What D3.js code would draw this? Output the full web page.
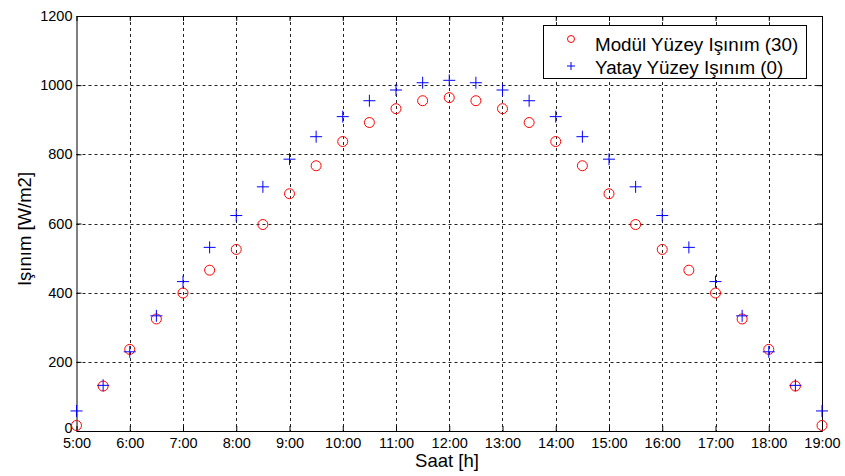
<!DOCTYPE html>
<html>
<head>
<meta charset="utf-8">
<script src="https://cdn.jsdelivr.net/npm/d3@7"></script>
<style>
  body { margin: 0; background: #fff; }
  text { font-family: Arial, "Liberation Sans", sans-serif; }
</style>
</head>
<body>
<div id="chart"></div>
<script>
// saat (decimal hours)
var hours = [5, 5.5, 6, 6.5, 7, 7.5, 8, 8.5, 9, 9.5, 10, 10.5, 11, 11.5, 12,
             12.5, 13, 13.5, 14, 14.5, 15, 15.5, 16, 16.5, 17, 17.5, 18, 18.5, 19];
// Modül Yüzey Işınım (30)
var modul = [16, 130, 236, 324, 399, 465, 525, 597, 686, 767, 837, 892, 932, 955, 964,
             955, 932, 892, 837, 767, 686, 597, 525, 465, 399, 324, 236, 130, 16];
// Yatay Yüzey Işınım (0)
var yatay = [58, 132, 229, 333, 432, 531, 623, 706, 786, 851, 909, 955, 986, 1007, 1014,
             1007, 986, 955, 909, 851, 786, 706, 623, 531, 432, 333, 229, 132, 58];
var xTicks = [5, 6, 7, 8, 9, 10, 11, 12, 13, 14, 15, 16, 17, 18, 19];
var yTicks = [0, 200, 400, 600, 800, 1000, 1200];
var seriesNames = ["Modül Yüzey Işınım (30)", "Yatay Yüzey Işınım (0)"];

function draw() {
    var w = 845, h = 476;
    var left = 76.5, right = 822, top = 16, bottom = 431;

    var svg = d3.select("#chart").append("svg")
        .attr("width", w)
        .attr("height", h);

    var x = d3.scaleLinear().domain([5, 19]).range([left, right]);
    var y = d3.scaleLinear().domain([0, 1200]).range([bottom, top]);

    // grid
    var grid = svg.append("g");
    grid.selectAll("line.vx")
        .data(xTicks.slice(1, -1))
        .enter().append("line")
        .attr("x1", function(d) { return Math.round(x(d)) + 0.5; })
        .attr("x2", function(d) { return Math.round(x(d)) + 0.5; })
        .attr("y1", top).attr("y2", bottom)
        .attr("stroke", "#222").attr("stroke-width", 1)
        .attr("stroke-dasharray", "3,3");
    grid.selectAll("line.hy")
        .data(yTicks.slice(1, -1))
        .enter().append("line")
        .attr("y1", function(d) { return Math.round(y(d)) + 0.5; })
        .attr("y2", function(d) { return Math.round(y(d)) + 0.5; })
        .attr("x1", left).attr("x2", right)
        .attr("stroke", "#222").attr("stroke-width", 1)
        .attr("stroke-dasharray", "3,3");

    // axes (ticks inward)
    var fmt = function(d) { return d + ":00"; };
    svg.append("g")
        .attr("transform", "translate(0," + bottom + ")")
        .call(d3.axisBottom(x).tickValues(xTicks).tickFormat(fmt).tickSizeInner(-5).tickSizeOuter(0).tickPadding(7));
    svg.append("g")
        .attr("transform", "translate(0," + top + ")")
        .call(d3.axisTop(x).tickValues(xTicks).tickFormat("").tickSizeInner(-5).tickSizeOuter(0));
    var yAxis = svg.append("g")
        .attr("transform", "translate(" + left + ",0)")
        .call(d3.axisLeft(y).tickValues(yTicks).tickFormat(d3.format("d")).tickSizeInner(-5).tickSizeOuter(0).tickPadding(4));
    svg.append("g")
        .attr("transform", "translate(" + right + ",0)")
        .call(d3.axisRight(y).tickValues(yTicks).tickFormat("").tickSizeInner(-5).tickSizeOuter(0));

    svg.selectAll(".domain").attr("stroke", "#000").attr("stroke-width", 1);
    svg.selectAll(".tick line").attr("stroke", "#000");
    svg.selectAll(".tick text")
        .attr("font-size", 14.5)
        .attr("fill", "#000")
        .style("font-family", "Arial, 'Liberation Sans', sans-serif");
    // lift the "0" label a little so it sits clear of "5:00"
    yAxis.selectAll(".tick text")
        .filter(function(d) { return d === 0; })
        .attr("dy", "0.1em");

    // markers: circles
    svg.append("g").selectAll("circle")
        .data(hours)
        .enter().append("circle")
        .attr("cx", function(d) { return x(d); })
        .attr("cy", function(d, i) { return y(modul[i]); })
        .attr("r", 5)
        .attr("fill", "none")
        .attr("stroke", "#ff0000")
        .attr("stroke-width", 1);

    // markers: plus
    var plus = "M-6,0H6M0,-6V6";
    svg.append("g").selectAll("path")
        .data(hours)
        .enter().append("path")
        .attr("d", plus)
        .attr("transform", function(d, i) { return "translate(" + x(d) + "," + y(yatay[i]) + ")"; })
        .attr("fill", "none")
        .attr("stroke", "#0000ff")
        .attr("stroke-width", 1);

    // axis titles
    svg.append("text")
        .attr("x", 447)
        .attr("y", 467)
        .attr("text-anchor", "middle")
        .attr("font-size", 18.5)
        .text("Saat [h]");
    svg.append("text")
        .attr("transform", "translate(31,229) rotate(-90)")
        .attr("text-anchor", "middle")
        .attr("font-size", 18.5)
        .text("Işınım [W/m2]");

    // legend
    var lg = svg.append("g");
    lg.append("rect")
        .attr("x", 543.5).attr("y", 25.5)
        .attr("width", 263).attr("height", 53)
        .attr("fill", "#fff")
        .attr("stroke", "#000").attr("stroke-width", 1);
    lg.append("circle")
        .attr("cx", 571).attr("cy", 39).attr("r", 3.5)
        .attr("fill", "none").attr("stroke", "#ff0000");
    lg.append("path")
        .attr("d", "M-4,0H4M0,-4V4")
        .attr("transform", "translate(571,66)")
        .attr("fill", "none").attr("stroke", "#0000ff");
    lg.selectAll("text.lab")
        .data(seriesNames)
        .enter().append("text")
        .attr("x", 595)
        .attr("y", function(d, i) { return 51 + i * 23; })
        .attr("font-size", 18.8)
        .text(function(d) { return d; });
}
window.onload = draw;
</script>
</body>
</html>
